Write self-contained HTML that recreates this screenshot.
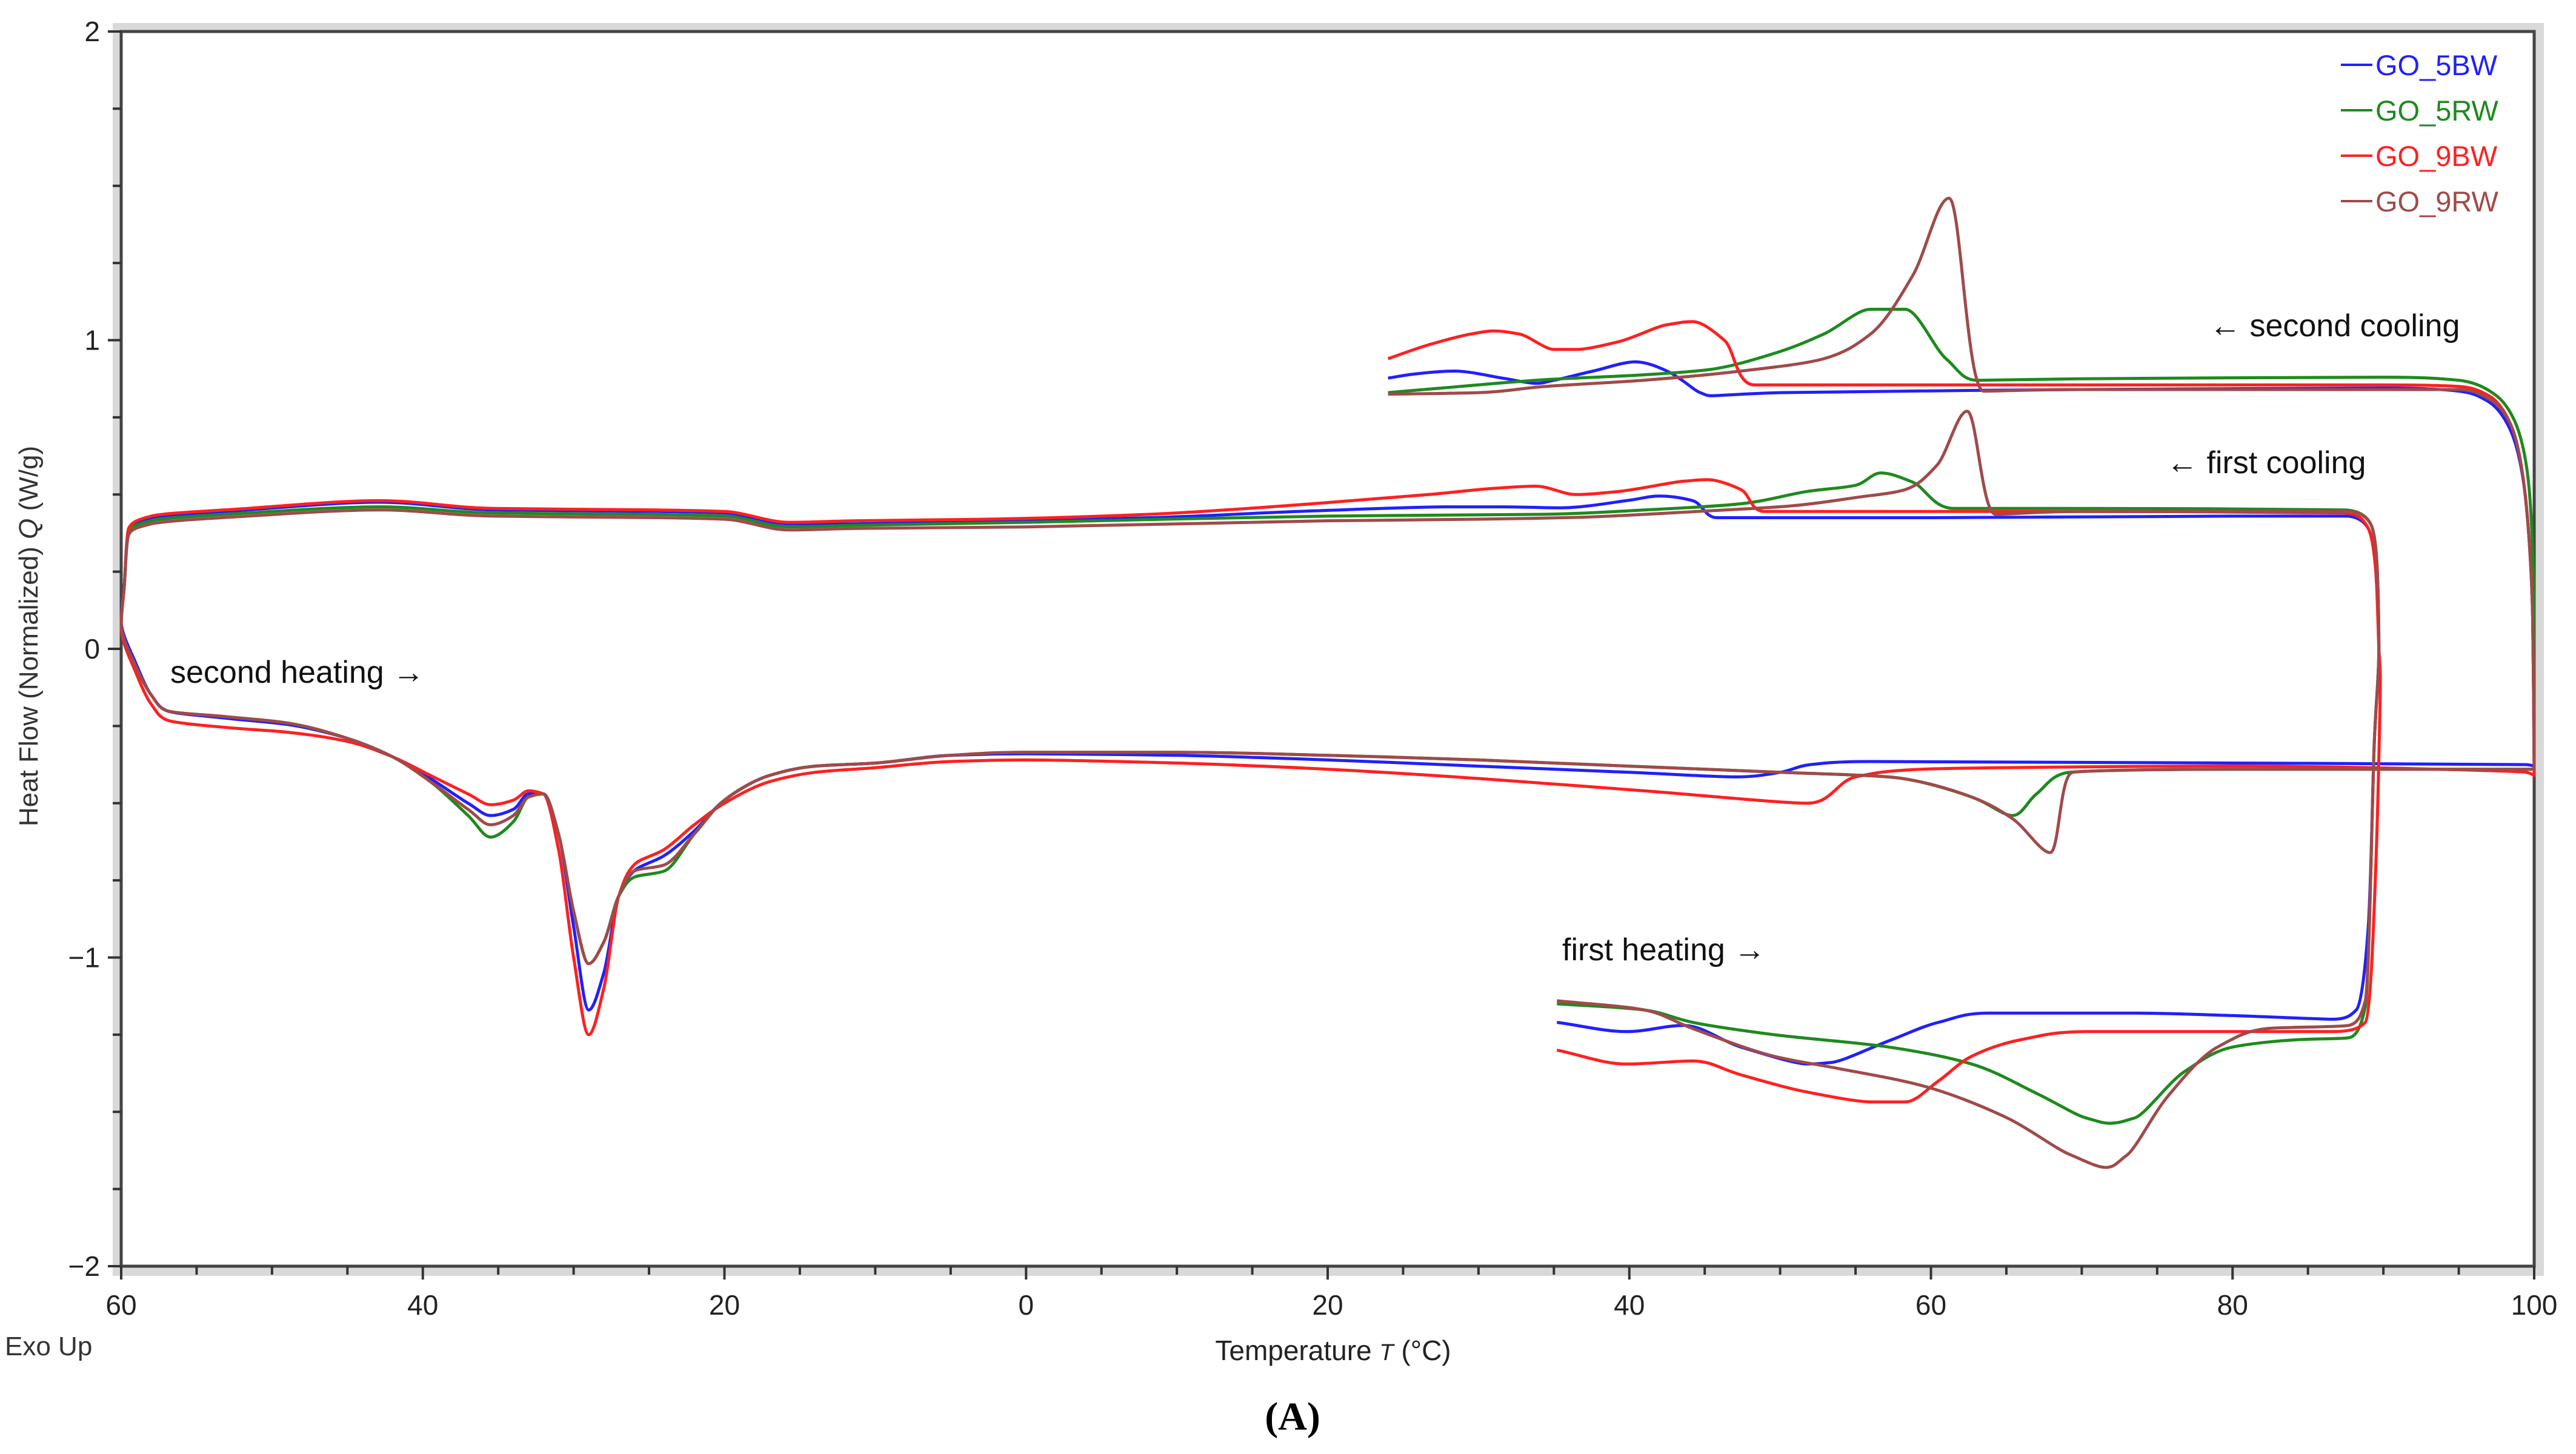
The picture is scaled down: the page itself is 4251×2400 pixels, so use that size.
<!DOCTYPE html>
<html><head><meta charset="utf-8"><style>
html,body{margin:0;padding:0;background:#fff;}
svg{display:block;font-family:"Liberation Sans",sans-serif;}
</style></head><body>
<svg id="chart" width="4251" height="2400" viewBox="0 0 4251 2400" xmlns="http://www.w3.org/2000/svg">
<g id="frame">
<rect x="186" y="38" width="4012" height="2068" fill="#d9d9d9"/>
<rect x="200" y="52" width="3982" height="2038" fill="#fff" stroke="#444" stroke-width="5"/>
</g>
<g id="axes"></g>
<g id="series"></g>
<g id="legend"></g>
<text transform="translate(62,1050) rotate(-90)" text-anchor="middle" font-size="44" fill="#333">Heat Flow (Normalized)  <tspan font-style="italic">Q</tspan>  (W/g)</text>
<text x="2200" y="2245" text-anchor="middle" font-size="46" fill="#222">Temperature <tspan font-style="italic" font-size="38">T</tspan> (°C)</text>
<text x="8" y="2237" font-size="44" fill="#333">Exo Up</text>
<text x="2133" y="2360" text-anchor="middle" font-size="66" font-weight="bold" font-family="Liberation Serif, serif">(A)</text>
<text x="281" y="1127" font-size="52" fill="#111">second heating →</text>
<text x="2578" y="1585" font-size="52" fill="#111">first heating →</text>
<text x="3575" y="781" font-size="52" fill="#111">← first cooling</text>
<text x="3646" y="555" font-size="52" fill="#111">← second cooling</text>
</svg>
<script>
const xTickValues = [-60,-40,-20,0,20,40,60,80,100];
const xTickLabels = ["60","40","20","0","20","40","60","80","100"];
const yTickValues = [-2,-1,0,1,2];
const yTickLabels = ["−2","−1","0","1","2"];
const seriesNames = ["GO_5BW","GO_5RW","GO_9BW","GO_9RW"];
const seriesColors = ["#2020ff","#1e8a1e","#ff2020","#a04a4a"];

const GO_5BW = [[35.2,-1.21],[39.8,-1.24],[43.6,-1.22],[47.4,-1.29],[51.8,-1.345],[53.4,-1.34],[57.2,-1.27],[60.5,-1.21],[63.8,-1.18],[73.5,-1.18],[86.6,-1.2],[88.2,-1.17],[89,-0.9],[89.4,-0.3],[89.7,0.0],[89.5,0.25],[89,0.39],[87.5,0.43],[80,0.43],[60,0.425],[50,0.425],[45.8,0.425],[44.2,0.48],[42,0.495],[39.8,0.48],[35.5,0.457],[31.6,0.46],[27.8,0.46],[19,0.447],[8.2,0.425],[-11.3,0.405],[-15.7,0.405],[-20,0.44],[-24.4,0.445],[-35.3,0.45],[-42.9,0.475],[-51.6,0.45],[-58,0.425],[-59.5,0.39],[-59.8,0.2],[-60,0.09],[-59,-0.05],[-58,-0.15],[-57,-0.2],[-53,-0.225],[-49,-0.245],[-45,-0.29],[-42,-0.35],[-39.5,-0.42],[-37,-0.5],[-35.5,-0.54],[-34,-0.52],[-33,-0.47],[-32,-0.47],[-31,-0.6],[-30,-0.9],[-29,-1.17],[-28,-1.05],[-27,-0.8],[-26,-0.72],[-24,-0.67],[-22,-0.59],[-20,-0.49],[-17,-0.41],[-14,-0.38],[-10,-0.37],[-5,-0.345],[0,-0.34],[10,-0.345],[20,-0.36],[30,-0.38],[40,-0.40],[47,-0.415],[50,-0.40],[52,-0.375],[56,-0.365],[80,-0.37],[99.5,-0.375],[100,-0.38],[99.9,0.1],[99.4,0.5],[98.5,0.7],[97,0.8],[95,0.835],[90,0.845],[70,0.84],[50,0.83],[45.5,0.82],[44.7,0.83],[43.5,0.87],[42.5,0.9],[40.4,0.93],[37.6,0.9],[35,0.87],[33.8,0.86],[31.6,0.877],[28.4,0.9],[25.7,0.89],[24,0.877]];

const GO_5RW = [[35.2,-1.15],[41,-1.17],[44.2,-1.21],[49.6,-1.25],[57.2,-1.29],[62.7,-1.345],[67,-1.44],[70.3,-1.52],[71.9,-1.537],[73.5,-1.52],[76.8,-1.37],[80,-1.29],[84.4,-1.266],[87.7,-1.26],[88.8,-1.16],[89.4,-0.3],[89.7,0.0],[89.6,0.25],[89.2,0.4],[87.5,0.45],[70,0.455],[61.5,0.455],[58.8,0.54],[56.7,0.57],[55,0.53],[51.8,0.51],[47.4,0.47],[41,0.45],[34.4,0.436],[20,0.43],[0,0.41],[-11.3,0.4],[-15.7,0.395],[-20,0.43],[-24.4,0.435],[-35.3,0.44],[-42.9,0.46],[-51.6,0.44],[-58,0.415],[-59.5,0.38],[-59.8,0.2],[-60,0.08],[-59,-0.06],[-58,-0.15],[-57,-0.2],[-53,-0.22],[-49,-0.24],[-45,-0.29],[-42,-0.35],[-39.5,-0.43],[-37,-0.54],[-35.5,-0.61],[-34,-0.56],[-33,-0.48],[-32,-0.47],[-31,-0.6],[-30,-0.85],[-29,-1.02],[-28,-0.95],[-27,-0.8],[-26,-0.74],[-24,-0.72],[-22,-0.6],[-20,-0.49],[-17,-0.41],[-14,-0.38],[-10,-0.37],[-5,-0.345],[0,-0.335],[10,-0.335],[20,-0.345],[30,-0.36],[40,-0.38],[50,-0.40],[57.2,-0.415],[62.7,-0.48],[65.4,-0.54],[67,-0.47],[69.2,-0.40],[80,-0.39],[99.5,-0.39],[100,-0.39],[100,0.1],[99.7,0.5],[99,0.7],[97.5,0.82],[95,0.87],[90,0.88],[70,0.875],[63.1,0.87],[61,0.94],[58.3,1.1],[56,1.1],[52.9,1.02],[49.6,0.957],[45.2,0.904],[41,0.888],[34.4,0.872],[27.8,0.846],[24,0.83]];

const GO_9BW = [[35.2,-1.30],[39.8,-1.345],[44.2,-1.335],[47.4,-1.38],[51.8,-1.436],[56.1,-1.468],[58.3,-1.468],[60.5,-1.40],[62.7,-1.32],[66,-1.266],[70.3,-1.24],[86.6,-1.24],[88.8,-1.21],[89.5,-0.7],[89.8,-0.1],[89.7,0.0],[89.5,0.25],[89,0.39],[87.5,0.44],[70,0.445],[49,0.445],[47.4,0.516],[45.2,0.548],[43.6,0.543],[39.3,0.51],[36.5,0.50],[33.8,0.527],[31,0.52],[26.7,0.50],[19,0.47],[8.2,0.436],[-2.7,0.42],[-11.3,0.415],[-15.7,0.41],[-20,0.445],[-24.4,0.45],[-35.3,0.455],[-42.9,0.48],[-51.6,0.455],[-58,0.43],[-59.5,0.39],[-59.8,0.2],[-60,0.07],[-59,-0.08],[-58,-0.18],[-57,-0.23],[-53,-0.255],[-49,-0.27],[-45,-0.3],[-42,-0.35],[-39.5,-0.41],[-37,-0.47],[-35.5,-0.505],[-34,-0.49],[-33,-0.46],[-32,-0.47],[-31,-0.65],[-30,-1.0],[-29,-1.25],[-28,-1.1],[-27,-0.8],[-26,-0.7],[-24,-0.65],[-22,-0.57],[-20,-0.5],[-17,-0.43],[-14,-0.40],[-10,-0.385],[-5,-0.365],[0,-0.36],[10,-0.37],[20,-0.39],[30,-0.42],[41,-0.46],[51.8,-0.50],[55,-0.415],[59.4,-0.39],[80,-0.38],[99.5,-0.40],[100,-0.41],[99.9,0.1],[99.4,0.5],[98.5,0.72],[97,0.82],[95,0.85],[90,0.855],[70,0.855],[48.3,0.855],[46.3,1.0],[44.2,1.06],[42.5,1.05],[39.3,0.995],[36.5,0.97],[35,0.97],[32.7,1.02],[31,1.03],[29.5,1.02],[26.7,0.985],[24,0.94]];

const GO_9RW = [[35.2,-1.14],[41,-1.17],[44.2,-1.23],[49.6,-1.32],[53.9,-1.36],[59.4,-1.415],[64.9,-1.516],[69.2,-1.638],[71.6,-1.68],[73,-1.64],[75.7,-1.45],[79,-1.29],[82.3,-1.23],[87.7,-1.22],[88.8,-1.14],[89.4,-0.3],[89.7,0.0],[89.6,0.25],[89.2,0.4],[87.5,0.445],[70,0.445],[64.3,0.436],[62.4,0.77],[60.4,0.595],[58.3,0.516],[55,0.49],[50.7,0.463],[45.2,0.447],[36.5,0.426],[30,0.42],[20,0.415],[0,0.395],[-11.3,0.39],[-15.7,0.385],[-20,0.42],[-24.4,0.425],[-35.3,0.43],[-42.9,0.45],[-51.6,0.43],[-58,0.405],[-59.5,0.37],[-59.8,0.2],[-60,0.08],[-59,-0.06],[-58,-0.15],[-57,-0.2],[-53,-0.22],[-49,-0.24],[-45,-0.29],[-42,-0.35],[-39.5,-0.43],[-37,-0.52],[-35.5,-0.57],[-34,-0.54],[-33,-0.48],[-32,-0.47],[-31,-0.6],[-30,-0.85],[-29,-1.02],[-28,-0.95],[-27,-0.8],[-26,-0.72],[-24,-0.7],[-22,-0.6],[-20,-0.49],[-17,-0.41],[-14,-0.38],[-10,-0.37],[-5,-0.345],[0,-0.335],[10,-0.335],[20,-0.345],[30,-0.36],[40,-0.38],[50,-0.40],[57.2,-0.415],[62.7,-0.48],[65.4,-0.55],[67.9,-0.66],[69.4,-0.40],[80,-0.39],[99.5,-0.39],[100,-0.39],[99.9,0.1],[99.4,0.5],[98.5,0.72],[97,0.81],[95,0.84],[90,0.84],[70,0.84],[63.5,0.835],[61.2,1.46],[58.8,1.21],[56,1.02],[52.9,0.94],[47.4,0.90],[40.9,0.87],[34.4,0.85],[30,0.83],[24,0.825]];

const NS = "http://www.w3.org/2000/svg";
const X0 = 200, X1 = 4182, Y0 = 2090, Y1 = 52;
const xMin = -60, xMax = 100, yMin = -2, yMax = 2;
function xScale(v){ return X0 + (v - xMin) / (xMax - xMin) * (X1 - X0); }
function yScale(v){ return Y0 - (v - yMin) / (yMax - yMin) * (Y0 - Y1); }
function mk(tag, attrs){ const e = document.createElementNS(NS, tag); for (const k in attrs) e.setAttribute(k, attrs[k]); return e; }

const axes = document.getElementById('axes');
for (let v = xMin; v <= xMax; v += 5) {
  const major = (v % 20 === 0);
  const t = mk('line', {x1: xScale(v), x2: xScale(v), y1: Y0, y2: Y0 + (major ? 22 : 14), stroke: '#333', 'stroke-width': 4});
  
  
  axes.appendChild(t);
}
xTickValues.forEach((v, i) => {
  const tx = mk('text', {x: xScale(v), y: 2170, 'text-anchor': 'middle', 'font-size': 46, fill: '#222'});
  tx.textContent = xTickLabels[i];
  
  
  axes.appendChild(tx);
});
for (let v = yMin; v <= yMax + 1e-9; v += 0.25) {
  const major = Math.abs(v - Math.round(v)) < 1e-9;
  const t = mk('line', {x1: X0 - (major ? 22 : 14), x2: X0, y1: yScale(v), y2: yScale(v), stroke: '#333', 'stroke-width': 4});
  
  
  axes.appendChild(t);
}
yTickValues.forEach((v, i) => {
  const tx = mk('text', {x: 165, y: yScale(v) + 16, 'text-anchor': 'end', 'font-size': 46, fill: '#222'});
  tx.textContent = yTickLabels[i];
  
  
  axes.appendChild(tx);
});

function tangentComp(a, b){
  if (a * b <= 0) return 0;
  return 2 * a * b / (a + b);
}
function smoothPath(pts){
  const p = pts.map(q => [xScale(q[0]), yScale(q[1])]);
  const n = p.length;
  const tan = p.map((pt, i) => {
    if (i === 0) return [(p[1][0] - pt[0]), (p[1][1] - pt[1])];
    if (i === n - 1) return [(pt[0] - p[i-1][0]), (pt[1] - p[i-1][1])];
    return [tangentComp(pt[0] - p[i-1][0], p[i+1][0] - pt[0]), tangentComp(pt[1] - p[i-1][1], p[i+1][1] - pt[1])];
  });
  let d = 'M' + p[0][0].toFixed(1) + ' ' + p[0][1].toFixed(1);
  for (let i = 0; i < n - 1; i++) {
    const c1 = [p[i][0] + tan[i][0] / 3, p[i][1] + tan[i][1] / 3];
    const c2 = [p[i+1][0] - tan[i+1][0] / 3, p[i+1][1] - tan[i+1][1] / 3];
    d += ' C' + c1[0].toFixed(1) + ' ' + c1[1].toFixed(1) + ' ' + c2[0].toFixed(1) + ' ' + c2[1].toFixed(1) + ' ' + p[i+1][0].toFixed(1) + ' ' + p[i+1][1].toFixed(1);
  }
  return d;
}

const seriesData = [GO_5BW, GO_5RW, GO_9BW, GO_9RW];
const sg = document.getElementById('series');
seriesData.forEach((pts, i) => {
  const path = mk('path', {d: smoothPath(pts), fill: 'none', stroke: seriesColors[i], 'stroke-width': 5, 'stroke-linejoin': 'round'});
  
  
  sg.appendChild(path);
});

const lg = document.getElementById('legend');
seriesNames.forEach((n, i) => {
  const y = 107 + i * 75;
  const ln = mk('line', {x1: 3863, x2: 3915, y1: y, y2: y, stroke: seriesColors[i], 'stroke-width': 4});
  
  
  lg.appendChild(ln);
  const tx = mk('text', {x: 3920, y: y + 17, 'font-size': 47, fill: seriesColors[i]});
  tx.textContent = n;
  
  
  lg.appendChild(tx);
});
</script>
</body></html>
